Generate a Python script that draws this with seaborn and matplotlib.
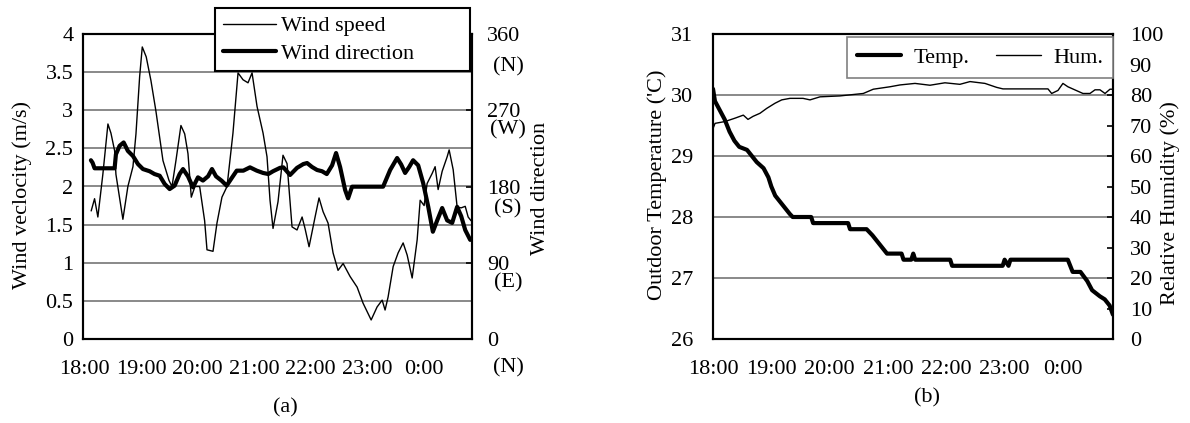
import matplotlib
matplotlib.use('Agg')
import matplotlib.pyplot as plt
from matplotlib.lines import Line2D
import pandas as pd
import seaborn as sns

# Tiempo en minutos desde las 18:00
speed_min = [6.7, 10.3, 13.8, 19.1, 24.5, 27.7, 31.6, 33.0, 40.4, 45.7, 51.1, 54.3, 58.2, 61.0,
             65.2, 70.2, 75.5, 83.0, 89.4, 92.6, 96.8, 102.1, 106.1, 109.6, 113.1, 117.0, 122.0,
             127.3, 129.8, 136.2, 140.4, 145.7, 151.1, 157.4, 162.8, 168.1, 173.4, 177.7, 183.0,
             189.4, 193.6, 196.8, 200.0, 205.3, 210.6, 214.9, 220.2, 225.5, 230.9, 234.0, 238.3,
             244.7, 248.9, 253.2, 258.5, 263.8, 269.1, 274.5, 281.9, 289.4, 295.7, 304.3, 310.6,
             316.0, 319.1, 322.3, 327.7, 333.0, 338.3, 342.6, 347.9, 353.2, 356.4, 360.6, 363.8,
             369.1, 372.3, 375.5, 379.8, 385.1, 387.2, 391.5, 395.7, 400.0, 404.3, 407.4, 410.6]
speed_val = [1.68, 1.84, 1.60, 2.16, 2.82, 2.70, 2.47, 2.16, 1.57, 2.00, 2.26, 2.69, 3.44, 3.83,
             3.70, 3.39, 2.99, 2.34, 2.08, 2.00, 2.34, 2.80, 2.69, 2.43, 1.86, 2.00, 2.00,
             1.55, 1.17, 1.15, 1.52, 1.86, 2.00, 2.70, 3.49, 3.40, 3.36, 3.49, 3.05,
             2.70, 2.39, 1.82, 1.45, 1.80, 2.41, 2.30, 1.47, 1.43, 1.60, 1.45, 1.21,
             1.60, 1.85, 1.67, 1.52, 1.13, 0.90, 0.99, 0.82, 0.68, 0.47, 0.25, 0.42,
             0.51, 0.38, 0.55, 0.95, 1.13, 1.26, 1.10, 0.80, 1.30, 1.82, 1.75, 2.04,
             2.17, 2.26, 1.96, 2.20, 2.39, 2.48, 2.22, 1.73, 1.72, 1.74, 1.60, 1.55]

dir_min = [6.4, 8.2, 10.3, 31.6, 33.0, 36.9, 41.2, 45.7, 51.1, 56.4, 61.7, 68.8, 74.0, 79.5,
           84.8, 90.1, 95.4, 100.7, 104.3, 109.6, 114.9, 120.2, 125.5, 130.9, 135.1, 139.4,
           145.4, 150.7, 156.1, 161.4, 168.4, 175.5, 182.7, 189.4, 195.0, 200.0, 207.4, 211.0,
           218.1, 225.5, 232.2, 236.2, 241.5, 246.8, 252.1, 257.1, 262.8, 267.0, 271.3, 276.6,
           279.8, 284.0, 317.0, 324.5, 331.9, 336.2, 340.4, 344.7, 348.9, 354.3, 359.6, 365.0,
           369.9, 374.5, 379.8, 385.1, 390.4, 395.7, 400.0, 404.3, 409.6]
dir_val = [211, 208, 201.5, 201.5, 218, 228, 232, 222, 216, 206.5, 200.6, 198, 194.7, 192.7,
           183, 177, 181, 194.7, 200.6, 192, 179, 190.8, 187, 192, 200.6, 192,
           186.8, 181, 190, 198.7, 198.7, 202.6, 198.7, 196, 194.7, 198, 202, 202.6,
           193.6, 202, 206.5, 207.7, 203, 199.5, 198, 194.7, 205, 219.5, 203, 176,
           166, 179.8, 179.8, 199.5, 213.6, 206, 196, 203, 211, 205, 184, 156,
           126.6, 140, 154.6, 140, 137, 156, 145, 128.6, 117]

temp_min = [0, 2, 7, 12, 17, 22, 27, 35, 40, 45, 52, 57, 60, 64, 69, 74, 79, 82, 101, 103,
            139, 141, 158, 164, 169, 174, 179, 194, 196, 204, 206, 208, 244, 246, 298, 300,
            304, 306, 310, 365, 370, 378, 385, 390, 398, 403, 408, 411.4]
temp_val = [30.1, 29.9, 29.75, 29.6, 29.4, 29.25, 29.15, 29.1, 29.0, 28.9, 28.8, 28.65, 28.5,
            28.35, 28.25, 28.15, 28.05, 28.0, 28.0, 27.9, 27.9, 27.8, 27.8, 27.7, 27.6, 27.5,
            27.4, 27.4, 27.3, 27.3, 27.4, 27.3, 27.3, 27.2, 27.2, 27.3, 27.2, 27.3, 27.3, 27.3,
            27.1, 27.1, 26.95, 26.8, 26.7, 26.65, 26.55, 26.4]

hum_min = [0, 2.1, 12.3, 22.6, 31.2, 36, 41.2, 48.3, 55.2, 63.8, 70.7, 79.2, 92.6, 99.8, 110.1,
           130.6, 154.6, 164.9, 182.1, 192.4, 207.8, 223.2, 238.6, 254, 264.4, 279.8, 291.8,
           298.3, 344.6, 348.4, 354.9, 360, 365.1, 380.6, 387.8, 393, 398.1, 403.3, 408.4, 411.4]
hum_val = [69, 70.7, 71.3, 72.4, 73.4, 72, 73, 74, 75.6, 77.3, 78.4, 78.9, 78.9, 78.4, 79.4,
           79.7, 80.5, 81.9, 82.7, 83.3, 83.8, 83.2, 84.0, 83.5, 84.4, 83.8, 82.5,
           82, 82, 80.5, 81.5, 83.8, 82.7, 80.5, 80.5, 81.7, 81.7, 80.5, 81.9, 81.9]

hour_ticks = [0, 60, 120, 180, 240, 300, 360]
hour_labels = ['18:00', '19:00', '20:00', '21:00', '22:00', '23:00', '0:00']
dir_ticks = [0, 90, 180, 270, 360]
dir_names = ['(N)', '(E)', '(S)', '(W)', '(N)']

sns.set_theme(style='white')
plt.rcParams['font.family'] = ['Liberation Serif', 'DejaVu Serif']
plt.rcParams.update({'font.size': 16, 'xtick.labelsize': 16, 'ytick.labelsize': 16,
                     'axes.labelsize': 16, 'legend.fontsize': 16,
                     'text.color': 'black', 'axes.labelcolor': 'black',
                     'xtick.color': 'black', 'ytick.color': 'black',
                     'axes.edgecolor': 'black', 'axes.linewidth': 1.5})

W, H = 1190, 423
fig = plt.figure(figsize=(W / 100, H / 100), dpi=100)


def box(x0, x1, y0, y1):
    return [x0 / W, 1 - y1 / H, (x1 - x0) / W, (y1 - y0) / H]


grid_kw = dict(color='#808080', linewidth=1.3)
xmax = 411.5

# ---------- (a) viento ----------
ax1 = fig.add_axes(box(83, 472, 34, 339))
ax2 = ax1.twinx()
sns.lineplot(x=speed_min, y=speed_val, ax=ax1, color='black', linewidth=1.0,
             estimator=None, sort=False)
sns.lineplot(x=dir_min, y=dir_val, ax=ax2, color='black', linewidth=3.0,
             estimator=None, sort=False)
ax1.set_xlim(-2, xmax)
ax1.set_ylim(0, 4)
ax2.set_ylim(0, 360)
ax1.set_yticks([0, 0.5, 1, 1.5, 2, 2.5, 3, 3.5, 4])
ax1.set_yticklabels(['0', '0.5', '1', '1.5', '2', '2.5', '3', '3.5', '4'])
ax1.yaxis.grid(True, **grid_kw)
ax1.set_xticks(hour_ticks)
ax1.set_xticklabels(hour_labels)
ax1.tick_params(axis='x', direction='inout', length=8, width=1.2, pad=11)
ax1.tick_params(axis='y', length=0, pad=7)
ax2.set_yticks(dir_ticks)
ax2.set_yticklabels([str(t) for t in dir_ticks])
ax2.tick_params(axis='y', direction='in', length=4, width=1.2, pad=11)
for t, name, dy in zip(dir_ticks, dir_names, [29, 20, 22, 20, 33]):
    ax2.annotate(name, xy=(1, t), xycoords=('axes fraction', 'data'),
                 xytext=(36, -dy), textcoords='offset pixels',
                 ha='center', va='center', annotation_clip=False)
ax1.set_xlabel('')
ax1.set_ylabel('Wind veclocity (m/s)')
ax2.set_ylabel('Wind direction')
ax1.yaxis.label.set_va('center')
ax2.yaxis.label.set_va('center')
ax1.yaxis.set_label_coords(-0.157, 0.472)
ax2.yaxis.set_label_coords(1.175, 0.495)
leg = ax2.legend([Line2D([], [], color='black', lw=1.0), Line2D([], [], color='black', lw=3.0)],
                 ['Wind speed', 'Wind direction'], loc='upper left', mode='expand',
                 bbox_to_anchor=box(215, 470, 8, 70), bbox_transform=fig.transFigure,
                 borderaxespad=0, fancybox=False, framealpha=1, edgecolor='black',
                 handlelength=2.4, handletextpad=0.2, labelspacing=0.3, borderpad=0.35)
leg.get_frame().set_linewidth(1.5)
fig.text(285 / W, 1 - 408 / H, '(a)', ha='center', va='center')

# ---------- (b) temperatura y humedad ----------
ax3 = fig.add_axes(box(713, 1113, 34, 339))
ax4 = ax3.twinx()
sns.lineplot(x=temp_min, y=temp_val, ax=ax3, color='black', linewidth=3.0,
             estimator=None, sort=False)
sns.lineplot(x=hum_min, y=hum_val, ax=ax4, color='black', linewidth=1.0,
             estimator=None, sort=False)
ax3.set_xlim(0, xmax)
ax3.set_ylim(26, 31)
ax4.set_ylim(0, 100)
ax3.set_yticks([26, 27, 28, 29, 30, 31])
ax3.yaxis.grid(True, **grid_kw)
ax3.set_xticks(hour_ticks)
ax3.set_xticklabels(hour_labels)
ax3.tick_params(axis='x', direction='inout', length=8, width=1.2, pad=11)
ax3.tick_params(axis='y', length=0, pad=14)
ax4.set_yticks(range(0, 101, 10))
ax4.tick_params(axis='y', direction='in', length=4, width=1.2, pad=12)
ax3.set_xlabel('')
ax3.set_ylabel("Outdoor Temperature ('C)")
ax4.set_ylabel('Relative Humidity (%)')
ax3.yaxis.label.set_va('center')
ax4.yaxis.label.set_va('center')
ax3.yaxis.set_label_coords(-0.14, 0.505)
ax4.yaxis.set_label_coords(1.1425, 0.446)
leg2 = ax4.legend([Line2D([], [], color='black', lw=3.0), Line2D([], [], color='black', lw=1.0)],
                  ['Temp.', 'Hum.'], ncol=2, loc='upper right',
                  bbox_to_anchor=(1113 / W, 1 - 37 / H), bbox_transform=fig.transFigure,
                  borderaxespad=0, fancybox=False, framealpha=1, edgecolor='#808080',
                  handlelength=2.0, handletextpad=0.55, columnspacing=1.2, borderpad=0.45)
leg2.get_frame().set_linewidth(1.2)
fig.text(927 / W, 1 - 398 / H, '(b)', ha='center', va='center')

for ax in (ax1, ax2, ax3, ax4):
    for s in ax.spines.values():
        s.set_color('black')
        s.set_linewidth(1.5)

fig.savefig('out.png', dpi=100)
